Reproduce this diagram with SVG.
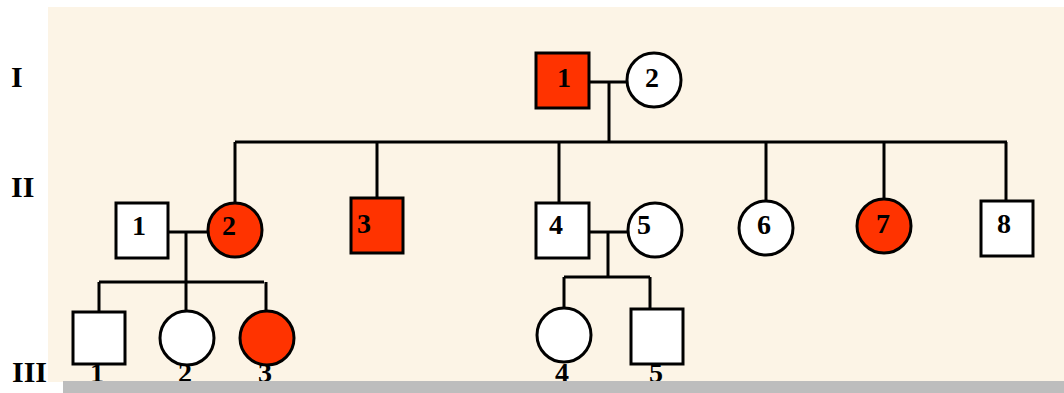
<svg xmlns="http://www.w3.org/2000/svg" width="1064" height="393" viewBox="0 0 1064 393">
<style>
.ln{stroke:#000;stroke-width:3;fill:none}
.m{stroke:#000;stroke-width:3;fill:#fff}
.a{stroke:#000;stroke-width:3;fill:#ff3300}
.t{font-family:"Liberation Serif",serif;font-weight:bold;font-size:28px;fill:#000;text-anchor:middle}
.g{font-family:"Liberation Serif",serif;font-weight:bold;font-size:30px;fill:#000}
</style>
<rect x="0" y="0" width="1064" height="393" fill="#fff"/>
<rect x="48" y="7" width="1016" height="375" fill="#fcf4e6"/>
<g id="gen-labels">
<text class="g" x="11" y="87">I</text>
<text class="g" x="11" y="197">II</text>
<text class="g" x="12" y="382">III</text>
</g>
<g id="connectors">
<path class="ln" d="M589 82H627M609 82V142M235 142H1007M235 142V203M377 142V197M559 142V202M766 142V201M884 142V199M1006 142V201"/>
<path class="ln" d="M168 232H207M186 232V282M99 282H264M99 282V312M186 282V311M266 282V311"/>
<path class="ln" d="M589 232H628M608 232V277M564 277H650M564 277V308M650 277V309"/>
</g>
<g id="I-1"><rect class="a" x="536" y="53" width="53" height="55"/><text class="t" x="564" y="87">1</text></g>
<g id="I-2"><circle class="m" cx="654" cy="80" r="27"/><text class="t" x="652" y="87">2</text></g>
<g id="II-1"><rect class="m" x="116" y="203" width="52" height="55"/><text class="t" x="139" y="235">1</text></g>
<g id="II-2"><circle class="a" cx="235" cy="230" r="27"/><text class="t" x="229" y="235">2</text></g>
<g id="II-3"><rect class="a" x="351" y="198" width="52" height="55"/><text class="t" x="364" y="233">3</text></g>
<g id="II-4"><rect class="m" x="536" y="203" width="53" height="55"/><text class="t" x="556" y="234">4</text></g>
<g id="II-5"><circle class="m" cx="655" cy="230" r="27"/><text class="t" x="644" y="234">5</text></g>
<g id="II-6"><circle class="m" cx="766" cy="228" r="27"/><text class="t" x="764" y="234">6</text></g>
<g id="II-7"><circle class="a" cx="884" cy="226" r="27"/><text class="t" x="883" y="233">7</text></g>
<g id="II-8"><rect class="m" x="981" y="201" width="52" height="55"/><text class="t" x="1004" y="233">8</text></g>
<g id="III-1"><rect class="m" x="73" y="312" width="52" height="52"/><text class="t" x="97" y="382">1</text></g>
<g id="III-2"><circle class="m" cx="187" cy="338" r="27"/><text class="t" x="185" y="382">2</text></g>
<g id="III-3"><circle class="a" cx="267" cy="338" r="27"/><text class="t" x="265" y="382">3</text></g>
<g id="III-4"><circle class="m" cx="564" cy="335" r="27"/><text class="t" x="562" y="382">4</text></g>
<g id="III-5"><rect class="m" x="631" y="309" width="52" height="55"/><text class="t" x="656" y="382">5</text></g>
<rect x="63" y="381" width="1001" height="12" fill="#bdbdbd"/>
</svg>
